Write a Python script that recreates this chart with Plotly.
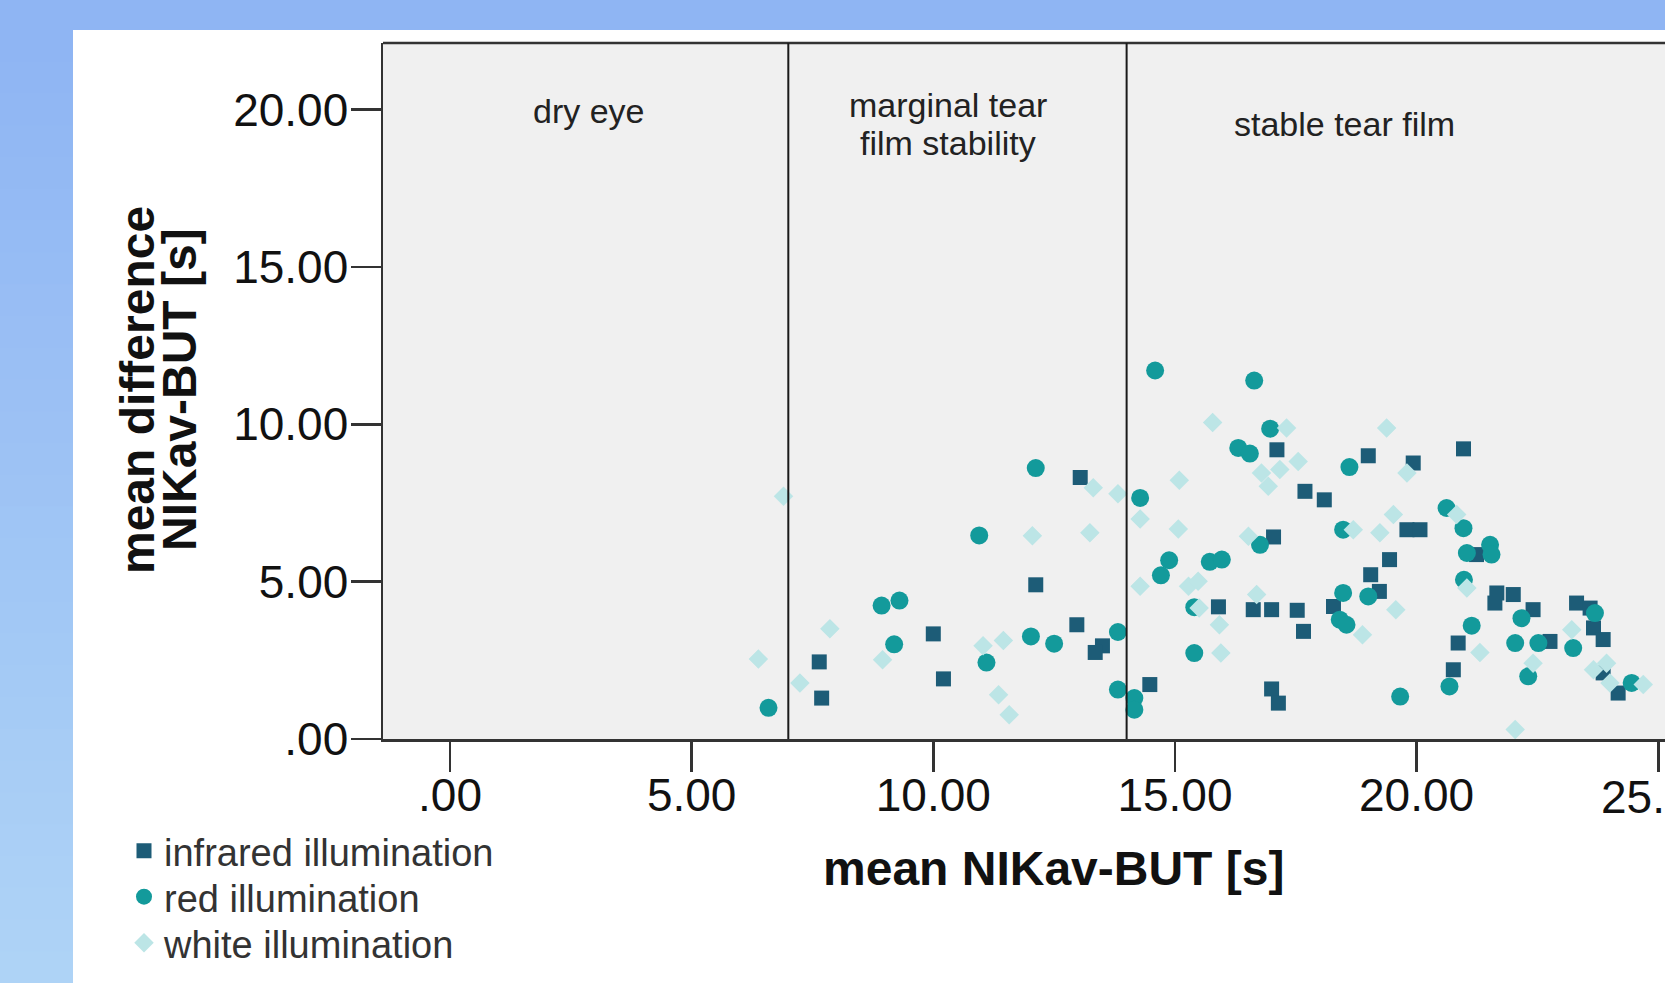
import plotly.graph_objects as go

# ---------------- data ----------------
infrared_x = [13.04, 12.12, 10.00, 12.97, 13.50, 13.35, 7.64, 10.21, 7.69, 14.48, 15.90,
              17.11, 19.00, 19.93, 20.97, 17.69, 18.09, 17.04, 19.80, 20.07, 19.44, 19.05,
              19.23, 16.62, 17.00, 17.53, 17.66, 18.28, 21.24, 21.66, 22.00, 21.62, 22.41,
              23.31, 23.59, 23.66, 23.86, 22.76, 20.86, 20.76, 17.00, 17.14, 23.86, 24.17]
infrared_y = [8.31, 4.90, 3.34, 3.63, 2.96, 2.75, 2.45, 1.91, 1.30, 1.73, 4.20,
              9.19, 9.00, 8.77, 9.22, 7.87, 7.60, 6.42, 6.65, 6.65, 5.70, 5.22,
              4.69, 4.11, 4.11, 4.09, 3.42, 4.21, 5.86, 4.64, 4.59, 4.32, 4.11,
              4.32, 4.16, 3.53, 3.16, 3.10, 3.05, 2.20, 1.59, 1.14, 2.10, 1.46]

red_x = [14.59, 12.12, 14.28, 10.95, 14.88, 14.71, 15.72, 15.97, 8.93, 9.30, 9.19, 12.02,
         12.50, 13.82, 15.40, 15.40, 11.10, 13.82, 14.16, 14.16, 6.59, 16.64, 16.97, 16.31,
         16.55, 18.61, 16.76, 20.62, 20.97, 21.04, 21.52, 21.55, 20.98, 18.48, 18.48, 19.00,
         18.41, 18.55, 21.14, 22.17, 22.04, 22.52, 23.69, 23.24, 22.31, 20.68, 19.66, 24.45]
red_y = [11.71, 8.61, 7.66, 6.47, 5.68, 5.20, 5.63, 5.70, 4.24, 4.40, 3.01, 3.26,
         3.03, 3.40, 4.19, 2.73, 2.43, 1.57, 1.30, 0.93, 0.99, 11.39, 9.86, 9.25,
         9.07, 8.64, 6.17, 7.34, 6.70, 5.91, 6.17, 5.86, 5.06, 6.65, 4.64, 4.53,
         3.79, 3.63, 3.60, 3.84, 3.05, 3.05, 4.00, 2.89, 1.99, 1.67, 1.35, 1.78]

white_x = [6.90, 15.78, 15.09, 13.31, 13.82, 14.28, 15.07, 12.05, 13.24, 14.28, 15.28, 15.48,
           15.50, 7.86, 11.45, 11.03, 6.38, 8.95, 7.24, 11.35, 11.57, 17.31, 19.38, 17.55,
           16.79, 17.17, 16.93, 19.80, 19.52, 18.69, 19.24, 16.52, 16.69, 15.92, 15.95, 19.57,
           18.88, 21.31, 21.04, 20.83, 23.21, 22.41, 23.66, 23.93, 24.00, 24.69, 22.04]
white_y = [7.71, 10.06, 8.22, 7.98, 7.79, 6.99, 6.67, 6.46, 6.55, 4.85, 4.85, 5.01,
           4.16, 3.50, 3.13, 2.96, 2.54, 2.52, 1.78, 1.41, 0.77, 9.88, 9.88, 8.82,
           8.45, 8.56, 8.03, 8.45, 7.13, 6.65, 6.55, 6.44, 4.59, 3.63, 2.73, 4.11,
           3.31, 2.75, 4.80, 7.13, 3.47, 2.41, 2.20, 2.41, 1.78, 1.73, 0.30]

series_names = ["infrared illumination", "red illumination", "white illumination"]

x_tickvals = [0, 5, 10, 15, 20, 25]
x_ticktext = [".00", "5.00", "10.00", "15.00", "20.00", "25.00"]
y_tickvals = [0, 5, 10, 15, 20]
y_ticktext = [".00", "5.00", "10.00", "15.00", "20.00"]

region_bounds = [7, 14]
region_label_x = [2.88, 10.3, 10.3, 18.5]
region_label_y = [19.95, 20.15, 18.95, 19.55]
region_label_text = ["dry eye", "marginal tear", "film stability", "stable tear film"]

x_title = "mean NIKav-BUT [s]"
y_title_lines = ["mean difference", "NIKav-BUT [s]"]

# ---------------- layout geometry ----------------
W, H = 1665, 983
PL, PR, PT, PB = 383, 1665, 43, 739
FONT = "Liberation Sans, Arial, sans-serif"
TICKSIZE = 46


def paper_x(px):
    return (px - PL) / (PR - PL)


def paper_y(py):
    return (PB - py) / (PB - PT)


fig = go.Figure()

fig.add_trace(go.Scatter(
    x=infrared_x, y=infrared_y, mode="markers", name=series_names[0], legend="legend",
    marker=dict(symbol="square", size=15, color="#1d5c77", line=dict(width=0)),
))
fig.add_trace(go.Scatter(
    x=red_x, y=red_y, mode="markers", name=series_names[1], legend="legend2",
    marker=dict(symbol="circle", size=18, color="#139a9b", line=dict(width=0)),
))
fig.add_trace(go.Scatter(
    x=white_x, y=white_y, mode="markers", name=series_names[2], legend="legend3",
    marker=dict(symbol="diamond", size=15, color="#bce5e6", line=dict(width=0)),
))

shapes = []
# blue frame: top strip and left strip with vertical gradient
shapes.append(dict(type="rect", xref="paper", yref="paper", layer="below",
                   x0=paper_x(0), x1=paper_x(W), y0=paper_y(30), y1=paper_y(0),
                   fillcolor="#8fb5f3", line=dict(width=0)))
nb = 30
c0 = (0x8f, 0xb5, 0xf3)
c1 = (0xae, 0xd3, 0xf6)
for i in range(nb):
    t = i / (nb - 1)
    col = "rgb(%d,%d,%d)" % tuple(round(a + (b - a) * t) for a, b in zip(c0, c1))
    ya = 30 + (H - 30) * i / nb
    yb = 30 + (H - 30) * (i + 1) / nb + 1
    shapes.append(dict(type="rect", xref="paper", yref="paper", layer="below",
                       x0=paper_x(0), x1=paper_x(73), y0=paper_y(yb), y1=paper_y(ya),
                       fillcolor=col, line=dict(width=0)))
# top border of plot area
shapes.append(dict(type="line", xref="paper", yref="paper", x0=0, x1=1, y0=1, y1=1,
                   line=dict(color="#333333", width=2.5)))
# region boundaries
for b in region_bounds:
    shapes.append(dict(type="line", xref="x", yref="paper", x0=b, x1=b, y0=0, y1=1,
                       line=dict(color="#1a1a1a", width=2)))

annotations = []
for tx, ty, tt in zip(region_label_x, region_label_y, region_label_text):
    annotations.append(dict(x=tx, y=ty, xref="x", yref="y", text=tt, showarrow=False,
                            xanchor="center", yanchor="middle",
                            font=dict(family=FONT, size=34, color="#222222")))
annotations.append(dict(x=paper_x(1053), y=paper_y(869), xref="paper", yref="paper",
                        text="<b>%s</b>" % x_title, showarrow=False,
                        xanchor="center", yanchor="middle",
                        font=dict(family=FONT, size=48, color="#111111")))
for px_, line in zip([137, 179], y_title_lines):
    annotations.append(dict(x=paper_x(px_), y=paper_y(390), xref="paper", yref="paper",
                            text="<b>%s</b>" % line, showarrow=False, textangle=-90,
                            xanchor="center", yanchor="middle",
                            font=dict(family=FONT, size=48, color="#111111")))
# last x tick label, cut off by the right edge of the picture (as in the reference)
annotations.append(dict(x=x_tickvals[-1], y=paper_y(797), xref="x", yref="paper",
                        text=x_ticktext[-1], showarrow=False,
                        xanchor="center", yanchor="middle",
                        font=dict(family=FONT, size=TICKSIZE, color="#111111")))

axis_common = dict(showline=True, linecolor="#333333", linewidth=2.5, ticks="outside",
                   ticklen=30, tickwidth=2.5, tickcolor="#333333", showgrid=False,
                   zeroline=False, fixedrange=True, automargin=False,
                   tickfont=dict(family=FONT, size=TICKSIZE, color="#111111"))

legend_common = dict(xanchor="left", yanchor="middle", bgcolor="rgba(0,0,0,0)",
                     borderwidth=0, itemsizing="trace",
                     font=dict(family=FONT, size=38, color="#333333"))

fig.update_layout(
    width=W, height=H, autosize=False,
    margin=dict(l=PL, r=W - PR, t=PT, b=H - PB, pad=0, autoexpand=False),
    paper_bgcolor="white",
    plot_bgcolor="#f0f0f0",
    xaxis=dict(range=[(PL - 450) / 48.33, (PR - 450) / 48.33], tickvals=x_tickvals,
               ticktext=x_ticktext[:-1] + [""], ticklabelstandoff=-16, **axis_common),
    yaxis=dict(range=[0, (PB - PT) / 31.47], tickvals=y_tickvals,
               ticktext=y_ticktext, ticklabelstandoff=-7, **axis_common),
    shapes=shapes,
    annotations=annotations,
    showlegend=True,
    legend=dict(x=paper_x(124), y=paper_y(851), **legend_common),
    legend2=dict(x=paper_x(124), y=paper_y(897), **legend_common),
    legend3=dict(x=paper_x(124), y=paper_y(943), **legend_common),
)

fig.write_html(
    "out.html",
    config={"responsive": False, "displayModeBar": False, "staticPlot": True},
    post_script="document.body.style.margin='0';document.body.style.padding='0';"
                "document.body.style.overflow='hidden';",
)
